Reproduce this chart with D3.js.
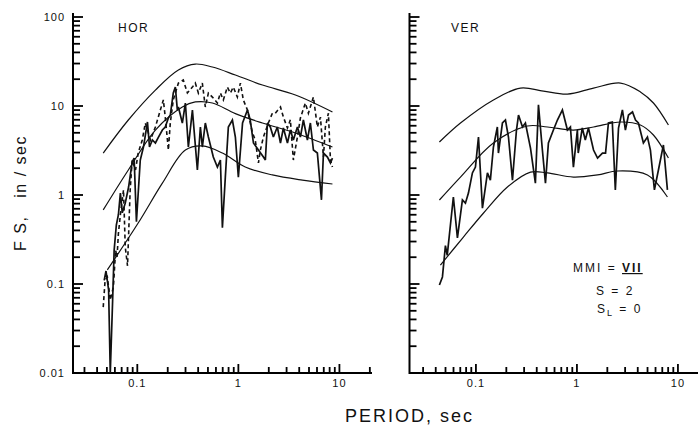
<!DOCTYPE html>
<html>
<head>
<meta charset="utf-8">
<script src="https://cdn.jsdelivr.net/npm/d3@7"></script>
<style>
  body { margin: 0; background: #fff; }
  text { font-family: "Liberation Sans", Arial, sans-serif; fill: #111; }
</style>
</head>
<body>
<div id="chart"></div>
<script>
// ---- data (period sec, FS in/sec) ----
const periodTicks = [0.1, 1, 10];
const fsTicks = [0.01, 0.1, 1, 10, 100];

const horUpper = [[0.046,2.96],[0.0815,6.96],[0.151,15.1],[0.255,25.4],[0.375,29.6],[0.553,27.4],[0.934,22.3],[1.73,17.2],[3.67,13.3],[8.53,8.57]];
const horMean = [[0.046,0.68],[0.0815,1.91],[0.151,5.37],[0.279,9.75],[0.375,11.1],[0.553,10.8],[0.934,8.2],[1.73,6.44],[3.67,4.98],[8.53,3.46]];
const horLower = [[0.0505,0.144],[0.102,0.484],[0.177,1.36],[0.299,3.2],[0.44,3.56],[0.695,2.96],[1.17,2.06],[2.17,1.68],[4.3,1.47],[8.53,1.33]];

const horSolid = [[0.047,0.11],[0.049,0.14],[0.052,0.086],[0.054,0.01],[0.057,0.066],[0.059,0.24],[0.062,0.46],[0.065,0.6],[0.068,1.05],[0.071,0.63],[0.076,0.81],[0.082,1.23],[0.089,2.35],[0.093,2.6],[0.098,0.5],[0.107,2.47],[0.115,3.46],[0.126,6.61],[0.132,3.46],[0.141,4.15],[0.151,3.84],[0.162,4.48],[0.177,5.37],[0.189,5.81],[0.203,7.33],[0.212,7.92],[0.227,14],[0.238,16.3],[0.249,9],[0.255,9.75],[0.279,6.44],[0.299,10.8],[0.32,3.46],[0.351,9],[0.393,1.91],[0.421,5.81],[0.44,3.46],[0.471,6.44],[0.505,4.48],[0.565,2.67],[0.62,2.06],[0.664,2.47],[0.695,0.43],[0.743,1.59],[0.796,5.81],[0.873,6.96],[0.934,4.48],[1,1.59],[1.1,6.44],[1.23,9],[1.31,6.96],[1.41,3.84],[1.58,3.2],[1.77,2.67],[1.85,2.47],[1.94,6.44],[2.07,5.81],[2.22,4.48],[2.43,5.81],[2.61,3.84],[2.79,5.66],[3.06,3.84],[3.27,5.37],[3.5,4.15],[3.84,5.81],[4.11,4.48],[4.4,6.96],[4.82,4.15],[5.16,6.44],[5.53,3.2],[6.05,2.96],[6.64,0.88],[6.95,2.96],[7.61,2.67],[8.15,2.29],[8.53,2.6]];

const horDashed = [[0.046,0.055],[0.048,0.11],[0.0505,0.12],[0.054,0.066],[0.058,0.093],[0.061,0.24],[0.063,0.2],[0.065,0.37],[0.068,0.6],[0.073,1.14],[0.076,0.26],[0.08,0.16],[0.085,1.14],[0.089,2.47],[0.096,1.91],[0.102,2.96],[0.112,4.15],[0.12,6.44],[0.135,4.15],[0.151,5.81],[0.169,9],[0.181,11.7],[0.189,7.5],[0.203,3.2],[0.212,6.44],[0.227,11.7],[0.255,18.1],[0.285,19.6],[0.313,14],[0.351,16.3],[0.375,18.1],[0.402,14],[0.44,18.1],[0.471,9.75],[0.505,14],[0.553,12.6],[0.62,10.8],[0.664,14],[0.71,11.7],[0.778,16.3],[0.833,14],[0.892,16.3],[0.977,12.6],[1.047,18.1],[1.12,11.7],[1.23,9],[1.38,5],[1.47,4.15],[1.58,2.29],[1.65,3.2],[1.77,4.48],[1.98,6.44],[2.17,8.3],[2.32,8.3],[2.61,9.75],[2.79,7.5],[3.06,5.66],[3.27,7],[3.5,2.47],[3.84,4.48],[4.11,7.33],[4.6,10.8],[4.93,8.3],[5.53,12.6],[6.05,5.81],[6.49,7.5],[6.95,2.67],[7.26,5.81],[7.78,8.3],[8.15,2.47],[8.53,2.06]];

const verUpper = [[0.0435,3.94],[0.0703,6.44],[0.149,11.7],[0.276,15.9],[0.466,14.7],[0.805,13.6],[1.46,15.9],[2.7,18.1],[4.25,14.4],[5.72,10.8],[8.05,6.12]];
const verMean = [[0.0435,0.879],[0.0703,1.59],[0.149,3.84],[0.324,5.96],[0.511,5.81],[0.923,5.37],[1.46,5.81],[2.7,6.61],[4.25,6.12],[5.72,4.72],[8.05,2.6]];
const verLower = [[0.0445,0.163],[0.0752,0.337],[0.119,0.628],[0.205,1.23],[0.347,1.81],[0.511,1.77],[0.923,1.59],[1.6,1.68],[2.52,1.86],[4.99,1.68],[7.87,0.95]];

const verSolid = [[0.0435,0.0975],[0.0466,0.12],[0.0499,0.27],[0.052,0.21],[0.0598,0.95],[0.0656,0.33],[0.0735,0.88],[0.0787,0.81],[0.0843,1.05],[0.0923,1.77],[0.0989,2.06],[0.106,4.48],[0.116,0.71],[0.13,1.77],[0.139,1.47],[0.149,3.46],[0.163,5.81],[0.167,2.96],[0.183,6.44],[0.196,6.96],[0.21,4.48],[0.23,1.47],[0.252,5.37],[0.264,7.92],[0.289,5.81],[0.309,6.44],[0.347,3.37],[0.388,1.36],[0.416,10.3],[0.455,3.2],[0.488,1.36],[0.522,3.84],[0.585,5.37],[0.641,6.96],[0.718,9.02],[0.805,5.37],[0.862,5.81],[0.923,2.06],[1.01,5.37],[1.03,2.96],[1.13,5.66],[1.21,4.15],[1.3,5.66],[1.46,3.2],[1.6,2.6],[1.79,2.96],[1.92,2.96],[2.05,6.44],[2.24,6.61],[2.4,1.14],[2.58,5.66],[2.82,9.02],[3.02,5.37],[3.24,7.92],[3.55,8.57],[3.8,6.96],[4.06,6.44],[4.55,3.84],[4.99,4.48],[5.34,3.2],[5.85,1.14],[6.41,1.91],[7.18,3.65],[7.87,1.14]];

function draw() {
  const dimensions = { width: 698, height: 431, axisY: 373, axisTop: 13 };

  const svg = d3.select("#chart")
    .append("svg")
    .attr("width", dimensions.width)
    .attr("height", dimensions.height)
    .style("background-color", "#fff");

  //Scales ==========
  const yScale = d3.scaleLog().domain([0.01, 100]).range([373, 17]);
  const fmt = d => d >= 1 ? d3.format("d")(d) : String(d);
  const isMajor = (list, v) => list.some(m => Math.abs(m - v) / m < 1e-6);

  const panels = [
    { name: "HOR", xScale: d3.scaleLog().domain([0.0231, 21.2]).range([73, 372.4]), axisEnd: 372, labelY: true, nameX: 118,
      bounds: [horUpper, horMean, horLower], solid: horSolid, dashed: horDashed },
    { name: "VER", xScale: d3.scaleLog().domain([0.022, 21.2]).range([409.5, 710.9]), axisEnd: 698, labelY: false, nameX: 451,
      bounds: [verUpper, verMean, verLower], solid: verSolid, dashed: null }
  ];

  panels.forEach(p => {
    const x = p.xScale;
    const g = svg.append("g").classed("panel", true);
    const x0 = x.range()[0];
    const yB = dimensions.axisY;

    //Axes ==========
    g.append("path")
      .attr("d", `M${x0},${dimensions.axisTop}V${yB}H${p.axisEnd}`)
      .attr("fill", "none")
      .attr("stroke", "#000")
      .attr("stroke-width", 2);

    // tick marks drawn inward
    g.append("g").selectAll("rect")
      .data(yScale.ticks())
      .join("rect")
      .attr("x", x0)
      .attr("y", d => yScale(d) - 0.9)
      .attr("width", d => isMajor(fsTicks, d) ? 10 : 7)
      .attr("height", 1.8)
      .attr("fill", "#000");

    g.append("g").selectAll("rect")
      .data(x.ticks().filter(d => d >= 0.029 && x(d) < dimensions.width))
      .join("rect")
      .attr("x", d => x(d) - 0.9)
      .attr("y", d => yB - (isMajor(periodTicks, d) ? 9 : 6))
      .attr("width", 1.8)
      .attr("height", d => isMajor(periodTicks, d) ? 9 : 6)
      .attr("fill", "#000");

    if (p.labelY) {
      g.append("g").selectAll("text")
        .data(fsTicks)
        .join("text")
        .text(fmt)
        .attr("x", x0 - 8)
        .attr("y", d => yScale(d) + 4)
        .attr("text-anchor", "end")
        .style("font-size", "11px")
        .style("letter-spacing", "1px");
    }

    g.append("g").selectAll("text")
      .data(periodTicks)
      .join("text")
      .text(fmt)
      .attr("x", d => x(d))
      .attr("y", yB + 14)
      .attr("text-anchor", "middle")
      .style("font-size", "11px")
      .style("letter-spacing", "1px");

    //Lines ==========
    const line = d3.line().x(d => x(d[0])).y(d => yScale(d[1]));
    const smooth = d3.line().x(d => x(d[0])).y(d => yScale(d[1])).curve(d3.curveCatmullRom.alpha(0.5));

    g.selectAll("path.bound")
      .data(p.bounds)
      .join("path")
      .classed("bound", true)
      .attr("d", smooth)
      .attr("fill", "none")
      .attr("stroke", "#111")
      .attr("stroke-width", 1.2);

    if (p.dashed) {
      g.append("path").datum(p.dashed)
        .attr("d", line)
        .attr("fill", "none")
        .attr("stroke", "#111")
        .attr("stroke-width", 1.6)
        .attr("stroke-dasharray", "4,3");
    }

    g.append("path").datum(p.solid)
      .attr("d", line)
      .attr("fill", "none")
      .attr("stroke", "#111")
      .attr("stroke-width", 1.7)
      .attr("stroke-linejoin", "miter")
      .attr("stroke-miterlimit", 3);

    g.append("text")
      .text(p.name)
      .attr("x", p.nameX)
      .attr("y", 32)
      .style("font-size", "12px")
      .style("letter-spacing", "1.5px");
  });

  //Titles ==========
  svg.append("text")
    .text("F S,   in / sec")
    .attr("transform", "translate(26,193) rotate(-90)")
    .attr("text-anchor", "middle")
    .style("white-space", "pre")
    .style("font-size", "16px")
    .style("letter-spacing", "1.5px");

  svg.append("text")
    .text("PERIOD, sec")
    .attr("x", 345)
    .attr("y", 422)
    .style("font-size", "18px")
    .style("letter-spacing", "2px");

  // annotation
  const note = svg.append("g").style("font-size", "12px").style("letter-spacing", "2px");
  const t1 = note.append("text").attr("x", 573).attr("y", 272);
  t1.append("tspan").text("MMI = ");
  t1.append("tspan").text("VII").style("font-weight", "bold").style("text-decoration", "underline");
  note.append("text").attr("x", 596).attr("y", 295).style("white-space", "pre").text("S = 2");
  const t3 = note.append("text").attr("x", 597).attr("y", 313).style("white-space", "pre");
  t3.append("tspan").text("S");
  t3.append("tspan").text("L").attr("dy", 3).style("font-size", "9px");
  t3.append("tspan").text(" = 0").attr("dy", -3);
}

draw();
</script>
</body>
</html>
